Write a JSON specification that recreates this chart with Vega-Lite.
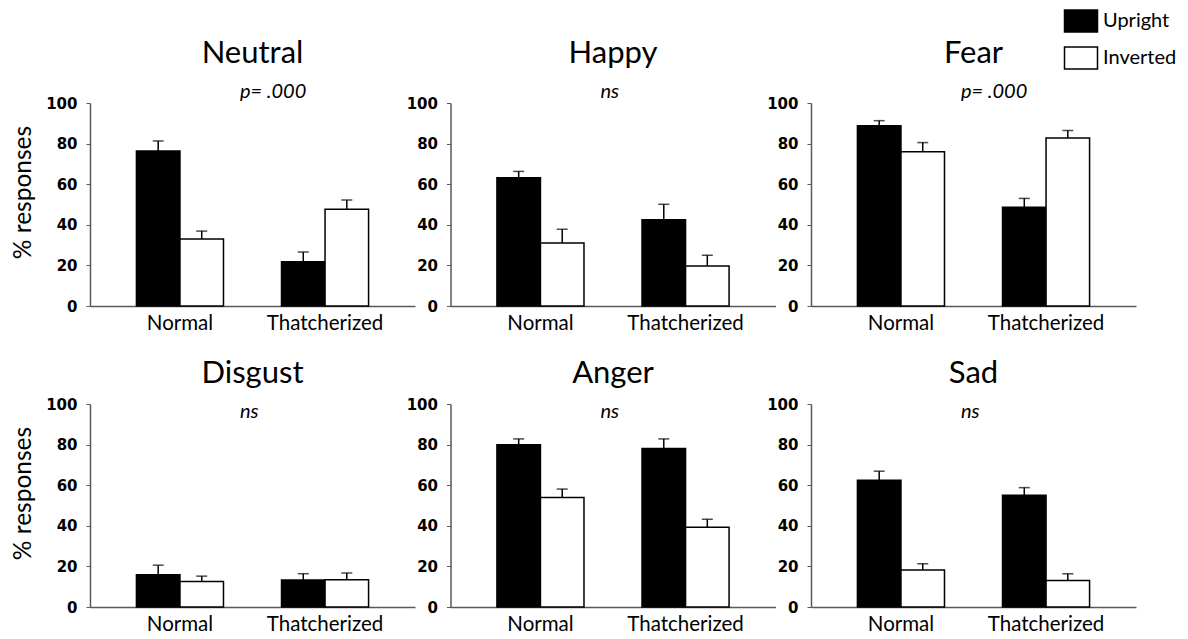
{
  "$schema": "https://vega.github.io/schema/vega-lite/v6.json",
  "padding": {"left": 10, "top": 9, "right": 5, "bottom": 5},
  "bounds": "flush",
  "columns": 3,
  "spacing": {"row": 98, "column": 35.5},
  "data": {
    "values": [
      {"emotion": "Neutral", "condition": "Normal", "orientation": "Upright", "value": 76.4, "upper": 81.3, "sig": "p= .000"},
      {"emotion": "Neutral", "condition": "Normal", "orientation": "Inverted", "value": 33.0, "upper": 36.9, "sig": "p= .000"},
      {"emotion": "Neutral", "condition": "Thatcherized", "orientation": "Upright", "value": 21.8, "upper": 26.6, "sig": "p= .000"},
      {"emotion": "Neutral", "condition": "Thatcherized", "orientation": "Inverted", "value": 47.6, "upper": 52.2, "sig": "p= .000"},
      {"emotion": "Happy", "condition": "Normal", "orientation": "Upright", "value": 63.2, "upper": 66.3, "sig": "ns"},
      {"emotion": "Happy", "condition": "Normal", "orientation": "Inverted", "value": 31.0, "upper": 37.8, "sig": "ns"},
      {"emotion": "Happy", "condition": "Thatcherized", "orientation": "Upright", "value": 42.5, "upper": 50.1, "sig": "ns"},
      {"emotion": "Happy", "condition": "Thatcherized", "orientation": "Inverted", "value": 19.7, "upper": 25.0, "sig": "ns"},
      {"emotion": "Fear", "condition": "Normal", "orientation": "Upright", "value": 88.8, "upper": 91.3, "sig": "p= .000"},
      {"emotion": "Fear", "condition": "Normal", "orientation": "Inverted", "value": 76.0, "upper": 80.5, "sig": "p= .000"},
      {"emotion": "Fear", "condition": "Thatcherized", "orientation": "Upright", "value": 48.6, "upper": 53.0, "sig": "p= .000"},
      {"emotion": "Fear", "condition": "Thatcherized", "orientation": "Inverted", "value": 82.8, "upper": 86.4, "sig": "p= .000"},
      {"emotion": "Disgust", "condition": "Normal", "orientation": "Upright", "value": 15.9, "upper": 20.6, "sig": "ns"},
      {"emotion": "Disgust", "condition": "Normal", "orientation": "Inverted", "value": 12.6, "upper": 15.2, "sig": "ns"},
      {"emotion": "Disgust", "condition": "Thatcherized", "orientation": "Upright", "value": 13.3, "upper": 16.4, "sig": "ns"},
      {"emotion": "Disgust", "condition": "Thatcherized", "orientation": "Inverted", "value": 13.4, "upper": 16.7, "sig": "ns"},
      {"emotion": "Anger", "condition": "Normal", "orientation": "Upright", "value": 79.9, "upper": 82.8, "sig": "ns"},
      {"emotion": "Anger", "condition": "Normal", "orientation": "Inverted", "value": 54.0, "upper": 58.1, "sig": "ns"},
      {"emotion": "Anger", "condition": "Thatcherized", "orientation": "Upright", "value": 78.1, "upper": 82.8, "sig": "ns"},
      {"emotion": "Anger", "condition": "Thatcherized", "orientation": "Inverted", "value": 39.3, "upper": 43.2, "sig": "ns"},
      {"emotion": "Sad", "condition": "Normal", "orientation": "Upright", "value": 62.4, "upper": 66.9, "sig": "ns"},
      {"emotion": "Sad", "condition": "Normal", "orientation": "Inverted", "value": 18.2, "upper": 21.3, "sig": "ns"},
      {"emotion": "Sad", "condition": "Thatcherized", "orientation": "Upright", "value": 55.0, "upper": 58.8, "sig": "ns"},
      {"emotion": "Sad", "condition": "Thatcherized", "orientation": "Inverted", "value": 13.1, "upper": 16.4, "sig": "ns"}
    ]
  },
  "concat": [
    {
      "width": 325, "height": 203,
      "transform": [{"filter": "datum.emotion === 'Neutral'"}],
      "title": {"text": "Neutral", "offset": 12},
      "encoding": {"x": {"field": "condition", "type": "nominal", "sort": ["Normal", "Thatcherized"], "scale": {"paddingInner": 0.4, "paddingOuter": 0.32}, "axis": {"title": null}}},
      "layer": [
        {"mark": {"type": "rule", "color": "black", "strokeWidth": 1.5}, "encoding": {"xOffset": {"field": "orientation", "type": "nominal", "sort": ["Upright", "Inverted"]}, "y": {"field": "value", "type": "quantitative", "scale": {"domain": [0, 100]}, "title": "% responses"}, "y2": {"field": "upper"}}},
        {"mark": {"type": "tick", "color": "black", "thickness": 1.5, "size": 11}, "encoding": {"xOffset": {"field": "orientation", "type": "nominal", "sort": ["Upright", "Inverted"]}, "y": {"field": "upper", "type": "quantitative", "title": "% responses"}}},
        {"mark": {"type": "bar", "stroke": "black", "strokeWidth": 1.5}, "encoding": {"xOffset": {"field": "orientation", "type": "nominal", "sort": ["Upright", "Inverted"]}, "y": {"field": "value", "type": "quantitative", "title": "% responses"}, "fill": {"field": "orientation", "type": "nominal", "scale": {"domain": ["Upright", "Inverted"], "range": ["black", "white"]}, "legend": {"orient": "none", "legendX": 979, "legendY": -94, "title": null, "symbolType": "M-1.5,-1H1.5V1H-1.5Z", "symbolSize": 484, "symbolStrokeColor": "black", "symbolStrokeWidth": 1.5, "labelFont": "Lato", "labelFontSize": 20, "labelOffset": 10, "rowPadding": 9, "symbolOpacity": 1}}}},
        {"transform": [{"filter": "datum.condition === 'Normal' && datum.orientation === 'Upright'"}], "mark": {"type": "text", "align": "left", "baseline": "middle", "dx": 60, "dy": -11, "font": "Lato", "fontStyle": "italic", "fontSize": 20}, "encoding": {"y": {"datum": 100, "type": "quantitative"}, "text": {"field": "sig"}}}
      ]
    },
    {
      "width": 325, "height": 203,
      "transform": [{"filter": "datum.emotion === 'Happy'"}],
      "title": {"text": "Happy", "offset": 12},
      "encoding": {"x": {"field": "condition", "type": "nominal", "sort": ["Normal", "Thatcherized"], "scale": {"paddingInner": 0.4, "paddingOuter": 0.32}, "axis": {"title": null}}},
      "layer": [
        {"mark": {"type": "rule", "color": "black", "strokeWidth": 1.5}, "encoding": {"xOffset": {"field": "orientation", "type": "nominal", "sort": ["Upright", "Inverted"]}, "y": {"field": "value", "type": "quantitative", "scale": {"domain": [0, 100]}, "title": null}, "y2": {"field": "upper"}}},
        {"mark": {"type": "tick", "color": "black", "thickness": 1.5, "size": 11}, "encoding": {"xOffset": {"field": "orientation", "type": "nominal", "sort": ["Upright", "Inverted"]}, "y": {"field": "upper", "type": "quantitative", "title": null}}},
        {"mark": {"type": "bar", "stroke": "black", "strokeWidth": 1.5}, "encoding": {"xOffset": {"field": "orientation", "type": "nominal", "sort": ["Upright", "Inverted"]}, "y": {"field": "value", "type": "quantitative", "title": null}, "fill": {"field": "orientation", "type": "nominal", "scale": {"domain": ["Upright", "Inverted"], "range": ["black", "white"]}, "legend": {"orient": "none", "legendX": 979, "legendY": -94, "title": null, "symbolType": "M-1.5,-1H1.5V1H-1.5Z", "symbolSize": 484, "symbolStrokeColor": "black", "symbolStrokeWidth": 1.5, "labelFont": "Lato", "labelFontSize": 20, "labelOffset": 10, "rowPadding": 9, "symbolOpacity": 1}}}},
        {"transform": [{"filter": "datum.condition === 'Normal' && datum.orientation === 'Upright'"}], "mark": {"type": "text", "align": "left", "baseline": "middle", "dx": 60, "dy": -11, "font": "Lato", "fontStyle": "italic", "fontSize": 20}, "encoding": {"y": {"datum": 100, "type": "quantitative"}, "text": {"field": "sig"}}}
      ]
    },
    {
      "width": 325, "height": 203,
      "transform": [{"filter": "datum.emotion === 'Fear'"}],
      "title": {"text": "Fear", "offset": 12},
      "encoding": {"x": {"field": "condition", "type": "nominal", "sort": ["Normal", "Thatcherized"], "scale": {"paddingInner": 0.4, "paddingOuter": 0.32}, "axis": {"title": null}}},
      "layer": [
        {"mark": {"type": "rule", "color": "black", "strokeWidth": 1.5}, "encoding": {"xOffset": {"field": "orientation", "type": "nominal", "sort": ["Upright", "Inverted"]}, "y": {"field": "value", "type": "quantitative", "scale": {"domain": [0, 100]}, "title": null}, "y2": {"field": "upper"}}},
        {"mark": {"type": "tick", "color": "black", "thickness": 1.5, "size": 11}, "encoding": {"xOffset": {"field": "orientation", "type": "nominal", "sort": ["Upright", "Inverted"]}, "y": {"field": "upper", "type": "quantitative", "title": null}}},
        {"mark": {"type": "bar", "stroke": "black", "strokeWidth": 1.5}, "encoding": {"xOffset": {"field": "orientation", "type": "nominal", "sort": ["Upright", "Inverted"]}, "y": {"field": "value", "type": "quantitative", "title": null}, "fill": {"field": "orientation", "type": "nominal", "scale": {"domain": ["Upright", "Inverted"], "range": ["black", "white"]}, "legend": {"orient": "none", "legendX": 979, "legendY": -94, "title": null, "symbolType": "M-1.5,-1H1.5V1H-1.5Z", "symbolSize": 484, "symbolStrokeColor": "black", "symbolStrokeWidth": 1.5, "labelFont": "Lato", "labelFontSize": 20, "labelOffset": 10, "rowPadding": 9, "symbolOpacity": 1}}}},
        {"transform": [{"filter": "datum.condition === 'Normal' && datum.orientation === 'Upright'"}], "mark": {"type": "text", "align": "left", "baseline": "middle", "dx": 60, "dy": -11, "font": "Lato", "fontStyle": "italic", "fontSize": 20}, "encoding": {"y": {"datum": 100, "type": "quantitative"}, "text": {"field": "sig"}}}
      ]
    },
    {
      "width": 325, "height": 203,
      "transform": [{"filter": "datum.emotion === 'Disgust'"}],
      "title": {"text": "Disgust", "offset": 7},
      "encoding": {"x": {"field": "condition", "type": "nominal", "sort": ["Normal", "Thatcherized"], "scale": {"paddingInner": 0.4, "paddingOuter": 0.32}, "axis": {"title": null}}},
      "layer": [
        {"mark": {"type": "rule", "color": "black", "strokeWidth": 1.5}, "encoding": {"xOffset": {"field": "orientation", "type": "nominal", "sort": ["Upright", "Inverted"]}, "y": {"field": "value", "type": "quantitative", "scale": {"domain": [0, 100]}, "title": "% responses"}, "y2": {"field": "upper"}}},
        {"mark": {"type": "tick", "color": "black", "thickness": 1.5, "size": 11}, "encoding": {"xOffset": {"field": "orientation", "type": "nominal", "sort": ["Upright", "Inverted"]}, "y": {"field": "upper", "type": "quantitative", "title": "% responses"}}},
        {"mark": {"type": "bar", "stroke": "black", "strokeWidth": 1.5}, "encoding": {"xOffset": {"field": "orientation", "type": "nominal", "sort": ["Upright", "Inverted"]}, "y": {"field": "value", "type": "quantitative", "title": "% responses"}, "fill": {"field": "orientation", "type": "nominal", "scale": {"domain": ["Upright", "Inverted"], "range": ["black", "white"]}, "legend": {"orient": "none", "legendX": 979, "legendY": -94, "title": null, "symbolType": "M-1.5,-1H1.5V1H-1.5Z", "symbolSize": 484, "symbolStrokeColor": "black", "symbolStrokeWidth": 1.5, "labelFont": "Lato", "labelFontSize": 20, "labelOffset": 10, "rowPadding": 9, "symbolOpacity": 1}}}},
        {"transform": [{"filter": "datum.condition === 'Normal' && datum.orientation === 'Upright'"}], "mark": {"type": "text", "align": "left", "baseline": "middle", "dx": 60, "dy": 8, "font": "Lato", "fontStyle": "italic", "fontSize": 20}, "encoding": {"y": {"datum": 100, "type": "quantitative"}, "text": {"field": "sig"}}}
      ]
    },
    {
      "width": 325, "height": 203,
      "transform": [{"filter": "datum.emotion === 'Anger'"}],
      "title": {"text": "Anger", "offset": 7},
      "encoding": {"x": {"field": "condition", "type": "nominal", "sort": ["Normal", "Thatcherized"], "scale": {"paddingInner": 0.4, "paddingOuter": 0.32}, "axis": {"title": null}}},
      "layer": [
        {"mark": {"type": "rule", "color": "black", "strokeWidth": 1.5}, "encoding": {"xOffset": {"field": "orientation", "type": "nominal", "sort": ["Upright", "Inverted"]}, "y": {"field": "value", "type": "quantitative", "scale": {"domain": [0, 100]}, "title": null}, "y2": {"field": "upper"}}},
        {"mark": {"type": "tick", "color": "black", "thickness": 1.5, "size": 11}, "encoding": {"xOffset": {"field": "orientation", "type": "nominal", "sort": ["Upright", "Inverted"]}, "y": {"field": "upper", "type": "quantitative", "title": null}}},
        {"mark": {"type": "bar", "stroke": "black", "strokeWidth": 1.5}, "encoding": {"xOffset": {"field": "orientation", "type": "nominal", "sort": ["Upright", "Inverted"]}, "y": {"field": "value", "type": "quantitative", "title": null}, "fill": {"field": "orientation", "type": "nominal", "scale": {"domain": ["Upright", "Inverted"], "range": ["black", "white"]}, "legend": {"orient": "none", "legendX": 979, "legendY": -94, "title": null, "symbolType": "M-1.5,-1H1.5V1H-1.5Z", "symbolSize": 484, "symbolStrokeColor": "black", "symbolStrokeWidth": 1.5, "labelFont": "Lato", "labelFontSize": 20, "labelOffset": 10, "rowPadding": 9, "symbolOpacity": 1}}}},
        {"transform": [{"filter": "datum.condition === 'Normal' && datum.orientation === 'Upright'"}], "mark": {"type": "text", "align": "left", "baseline": "middle", "dx": 60, "dy": 8, "font": "Lato", "fontStyle": "italic", "fontSize": 20}, "encoding": {"y": {"datum": 100, "type": "quantitative"}, "text": {"field": "sig"}}}
      ]
    },
    {
      "width": 325, "height": 203,
      "transform": [{"filter": "datum.emotion === 'Sad'"}],
      "title": {"text": "Sad", "offset": 7},
      "encoding": {"x": {"field": "condition", "type": "nominal", "sort": ["Normal", "Thatcherized"], "scale": {"paddingInner": 0.4, "paddingOuter": 0.32}, "axis": {"title": null}}},
      "layer": [
        {"mark": {"type": "rule", "color": "black", "strokeWidth": 1.5}, "encoding": {"xOffset": {"field": "orientation", "type": "nominal", "sort": ["Upright", "Inverted"]}, "y": {"field": "value", "type": "quantitative", "scale": {"domain": [0, 100]}, "title": null}, "y2": {"field": "upper"}}},
        {"mark": {"type": "tick", "color": "black", "thickness": 1.5, "size": 11}, "encoding": {"xOffset": {"field": "orientation", "type": "nominal", "sort": ["Upright", "Inverted"]}, "y": {"field": "upper", "type": "quantitative", "title": null}}},
        {"mark": {"type": "bar", "stroke": "black", "strokeWidth": 1.5}, "encoding": {"xOffset": {"field": "orientation", "type": "nominal", "sort": ["Upright", "Inverted"]}, "y": {"field": "value", "type": "quantitative", "title": null}, "fill": {"field": "orientation", "type": "nominal", "scale": {"domain": ["Upright", "Inverted"], "range": ["black", "white"]}, "legend": {"orient": "none", "legendX": 979, "legendY": -94, "title": null, "symbolType": "M-1.5,-1H1.5V1H-1.5Z", "symbolSize": 484, "symbolStrokeColor": "black", "symbolStrokeWidth": 1.5, "labelFont": "Lato", "labelFontSize": 20, "labelOffset": 10, "rowPadding": 9, "symbolOpacity": 1}}}},
        {"transform": [{"filter": "datum.condition === 'Normal' && datum.orientation === 'Upright'"}], "mark": {"type": "text", "align": "left", "baseline": "middle", "dx": 60, "dy": 8, "font": "Lato", "fontStyle": "italic", "fontSize": 20}, "encoding": {"y": {"datum": 100, "type": "quantitative"}, "text": {"field": "sig"}}}
      ]
    }
  ],
  "config": {
    "view": {"stroke": null},
    "font": "Lato",
    "axis": {"grid": false, "domainColor": "#595959", "domainWidth": 1.5, "tickColor": "#595959", "labelColor": "black", "titleColor": "black"},
    "axisX": {"ticks": false, "labelFont": "Lato", "labelFontSize": 20.5, "labelPadding": 7, "labelAngle": 0},
    "axisY": {"tickSize": 4, "tickCount": 5, "labelFont": "DejaVu Sans", "labelFontWeight": "bold", "labelFontSize": 15, "labelPadding": 9, "titleFont": "Lato", "titleFontSize": 24.5, "titleFontWeight": "normal", "titlePadding": 10, "titleY": 89},
    "title": {"font": "Lato", "fontSize": 31, "fontWeight": "normal", "frame": "group", "color": "black"}
  }
}
